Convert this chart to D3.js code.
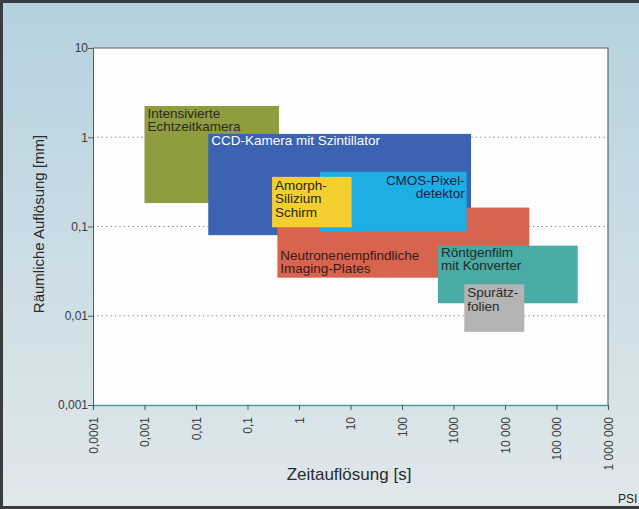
<!DOCTYPE html>
<html>
<head>
<meta charset="utf-8">
<script src="https://cdn.jsdelivr.net/npm/d3@7"></script>
<style>
  body { margin: 0; }
  svg { display: block; font-family: "Liberation Sans", Arial, sans-serif; }
</style>
</head>
<body>
<svg id="chart" width="639" height="509"></svg>
<script>
// detectors, drawn back to front
const names = ['Intensivierte Echtzeitkamera', 'CCD-Kamera mit Szintillator', 'Neutronenempfindliche Imaging-Plates',
  'CMOS-Pixeldetektor', 'Amorph-Silizium Schirm', 'Röntgenfilm mit Konverter', 'Spurätzfolien']
const labelLines = [['Intensivierte', 'Echtzeitkamera'], ['CCD-Kamera mit Szintillator'], ['Neutronenempfindliche', 'Imaging-Plates'],
  ['CMOS-Pixel-', 'detektor'], ['Amorph-', 'Silizium', 'Schirm'], ['Röntgenfilm', 'mit Konverter'], ['Spurätz-', 'folien']]
// time resolution [s], min / max
const tMin = [0.001, 0.0173, 0.38, 2.56, 0.30, 500, 1620]
const tMax = [0.41, 2190, 29600, 1800, 10.5, 258000, 23700]
// spatial resolution [mm], min / max
const rMin = [0.183, 0.080, 0.0267, 0.0875, 0.098, 0.0138, 0.0066]
const rMax = [2.24, 1.09, 0.163, 0.41, 0.36, 0.061, 0.0225]
const fills = ['#8f9c40', '#3c62b2', '#d8644f', '#1eaee6', '#f3d030', '#4aaaa4', '#b4b4b4']
const textCols = ['#2b2b1e', '#ffffff', '#3a1a14', '#14233f', '#2a2410', '#1c2c2c', '#2a2a2a']

const xTicks = [1e-4, 1e-3, 1e-2, 1e-1, 1, 10, 100, 1000, 1e4, 1e5, 1e6]
const xTickLabels = ['0,0001', '0,001', '0,01', '0,1', '1', '10', '100', '1000', '10 000', '100 000', '1 000 000']
const yTicks = [0.001, 0.01, 0.1, 1, 10]
const yTickLabels = ['0,001', '0,01', '0,1', '1', '10']

const svg = d3.select('#chart')
const W = 639, H = 509
const m = { left: 93, top: 48, right: 608, bottom: 405 }

// background
const defs = svg.append('defs')
const grad = defs.append('linearGradient').attr('id', 'bg').attr('x1', 0).attr('y1', 0).attr('x2', 0).attr('y2', 1)
grad.append('stop').attr('offset', '0%').attr('stop-color', '#b5d1de')
grad.append('stop').attr('offset', '50%').attr('stop-color', '#cbdde5')
grad.append('stop').attr('offset', '100%').attr('stop-color', '#e0e8eb')
svg.append('rect').attr('width', W).attr('height', H).attr('fill', 'url(#bg)')
svg.append('path').attr('d', `M${W},1.5 H1.5 V${H - 1.5} H${W}`)
  .attr('fill', 'none').attr('stroke', '#3a3d40').attr('stroke-width', 3)

const x = d3.scaleLog().domain([1e-4, 1e6]).range([m.left, m.right])
const y = d3.scaleLog().domain([0.001, 10]).range([m.bottom, m.top])

// plot area
svg.append('rect').attr('x', m.left).attr('y', m.top)
  .attr('width', m.right - m.left).attr('height', m.bottom - m.top).attr('fill', '#fdfdfd')

// dotted grid
svg.append('g').selectAll('line').data([0.01, 0.1, 1]).join('line')
  .attr('x1', m.left).attr('x2', m.right)
  .attr('y1', d => y(d)).attr('y2', d => y(d))
  .attr('stroke', '#777').attr('stroke-width', 1).attr('stroke-dasharray', '1.2,3.2')

// boxes
const boxes = svg.append('g')
names.forEach((n, i) => {
  boxes.append('rect')
    .attr('x', x(tMin[i])).attr('y', y(rMax[i]))
    .attr('width', x(tMax[i]) - x(tMin[i]))
    .attr('height', y(rMin[i]) - y(rMax[i]))
    .attr('fill', fills[i])
})

// frame
svg.append('path').attr('d', `M${m.left},${m.top} H${m.right} V${m.bottom}`)
  .attr('fill', 'none').attr('stroke', '#5f6468').attr('stroke-width', 1.2)

// axes
const yAxis = d3.axisLeft(y).tickValues(yTicks).tickSize(5).tickFormat((d, i) => yTickLabels[i])
const gy = svg.append('g').attr('transform', `translate(${m.left},0)`).call(yAxis)
gy.select('.domain').attr('stroke', '#55595c')
gy.selectAll('.tick line').attr('stroke', '#55595c')
gy.selectAll('.tick text').attr('fill', '#3a3a3a').attr('font-size', 12).attr('x', -5)
  .attr('font-family', '"Liberation Sans", Arial, sans-serif')

const xAxis = d3.axisBottom(x).tickValues(xTicks).tickSize(5).tickFormat((d, i) => xTickLabels[i])
const gx = svg.append('g').attr('transform', `translate(0,${m.bottom})`).call(xAxis)
gx.select('.domain').attr('stroke', '#4e9c9a').attr('stroke-width', 1.3)
gx.selectAll('.tick line').attr('stroke', '#55595c')
gx.selectAll('.tick text').attr('fill', '#3a3a3a').attr('font-size', 12)
  .attr('font-family', '"Liberation Sans", Arial, sans-serif')
  .attr('text-anchor', 'end').attr('transform', 'rotate(-90)')
  .attr('x', -12).attr('y', 0).attr('dy', '0.35em')

// box labels
const fs = 13.5, lh = 13.5
const labels = svg.append('g').attr('font-size', fs)
names.forEach((n, i) => {
  const right = i === 3
  const lx = right ? x(tMax[i]) - 2 : x(tMin[i]) + 3
  const t = labels.append('text')
    .attr('x', lx)
    .attr('y', y(rMax[i]))
    .attr('text-anchor', right ? 'end' : 'start')
    .attr('fill', textCols[i])
  const first = [12, 11, 52, 13, 13, 11, 13][i]
  labelLines[i].forEach((l, k) => {
    t.append('tspan').attr('x', lx).attr('dy', k === 0 ? first : lh).text(l)
  })
})

// axis titles
svg.append('text').attr('x', 349).attr('y', 480).attr('text-anchor', 'middle')
  .attr('font-size', 17).attr('fill', '#2a2a2a').text('Zeitauflösung [s]')
svg.append('text').attr('transform', 'translate(44,224) rotate(-90)').attr('text-anchor', 'middle')
  .attr('font-size', 15).attr('fill', '#2a2a2a').text('Räumliche Auflösung [mm]')

svg.append('text').attr('x', 618).attr('y', 503).attr('font-size', 12).attr('fill', '#222').text('PSI')
</script>
</body>
</html>
